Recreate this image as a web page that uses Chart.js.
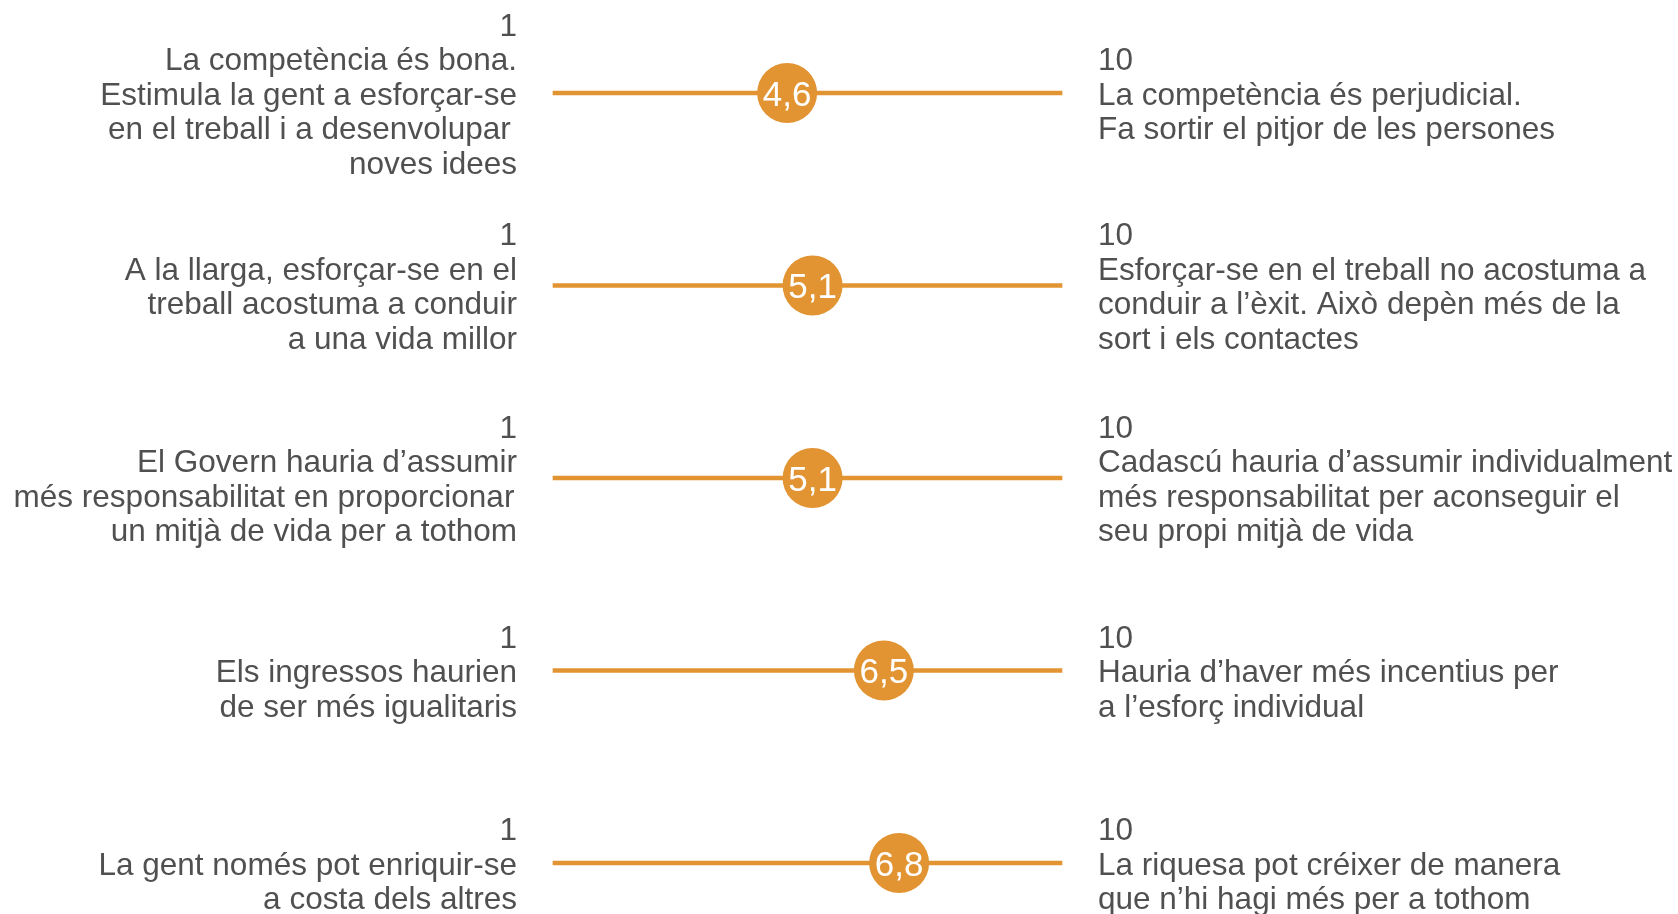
<!DOCTYPE html>
<html>
<head>
<meta charset="utf-8">
<script src="https://cdn.jsdelivr.net/npm/chart.js@4/dist/chart.umd.min.js"></script>
<style>
html, body { margin: 0; padding: 0; background: #ffffff; overflow: hidden; }
#wrap { width: 1678px; height: 914px; position: relative; }
</style>
</head>
<body>
<div id="wrap"><canvas id="c"></canvas></div>
<script>
// ---- data ----
const categories = ['Competència', 'Esforç', 'Responsabilitat', 'Ingressos', 'Riquesa'];
const leftLabels = [
  ['1', 'La competència és bona.', 'Estimula la gent a esforçar-se', 'en el treball i a desenvolupar\u2009', 'noves idees'],
  ['1', 'A la llarga, esforçar-se en el', 'treball acostuma a conduir', 'a una vida millor'],
  ['1', 'El Govern hauria d’assumir', 'més responsabilitat en proporcionar\u200A', 'un mitjà de vida per a tothom'],
  ['1', 'Els ingressos haurien', 'de ser més igualitaris'],
  ['1', 'La gent només pot enriquir-se', 'a costa dels altres']
];
const rightLabels = [
  ['10', 'La competència és perjudicial.', 'Fa sortir el pitjor de les persones'],
  ['10', 'Esforçar-se en el treball no acostuma a', 'conduir a l’èxit. Això depèn més de la', 'sort i els contactes'],
  ['10', 'Cadascú hauria d’assumir individualment', 'més responsabilitat per aconseguir el', 'seu propi mitjà de vida'],
  ['10', 'Hauria d’haver més incentius per', 'a l’esforç individual'],
  ['10', 'La riquesa pot créixer de manera', 'que n’hi hagi més per a tothom']
];
const values = [4.6, 5.1, 5.1, 6.5, 6.8];
const scaleRange = [0, 10];

// ---- styles ----
const ORANGE = '#E29433';
const TEXT = '#505050';
const FONT = '"Liberation Sans", Arial, Helvetica, sans-serif';

const valueLabels = {
  id: 'valueLabels',
  afterDatasetsDraw(chart) {
    const meta = chart.getDatasetMeta(1);
    const ctx = chart.ctx;
    const size = 35;
    ctx.save();
    ctx.fillStyle = '#ffffff';
    ctx.font = size + 'px ' + FONT;
    ctx.textAlign = 'center';
    ctx.textBaseline = 'alphabetic';
    meta.data.forEach((pt, i) => {
      const txt = values[i].toFixed(1).replace('.', ',');
      ctx.fillText(txt, pt.x, pt.y + size * 0.358);
    });
    ctx.restore();
  }
};

const tickCommon = {
  color: TEXT,
  font: { family: FONT, size: 31.5, lineHeight: '34.5px' },
  padding: 36,
  labelOffset: 3,
  autoSkip: false,
  maxRotation: 0,
  minRotation: 0,
  crossAlign: 'near'
};

function fixWidth(w) {
  return function (scale) {
    scale.width = w;
    scale.paddingTop = 0;
    scale.paddingBottom = 0;
  };
}

new Chart(document.getElementById('c'), {
  type: 'bar',
  data: {
    labels: leftLabels,
    datasets: [
      {
        type: 'bar',
        indexAxis: 'y',
        data: categories.map(() => scaleRange.slice()),
        backgroundColor: ORANGE,
        borderWidth: 0,
        barThickness: 4,
        clip: false,
        xAxisID: 'x',
        yAxisID: 'y',
        order: 1
      },
      {
        type: 'line',
        indexAxis: 'y',
        data: values,
        showLine: false,
        pointRadius: 30,
        pointHoverRadius: 30,
        pointBackgroundColor: ORANGE,
        pointBorderWidth: 0,
        pointHoverBorderWidth: 0,
        clip: false,
        xAxisID: 'x',
        yAxisID: 'y',
        order: 0
      }
    ]
  },
  options: {
    indexAxis: 'y',
    responsive: true,
    maintainAspectRatio: false,
    animation: false,
    events: [],
    layout: { padding: { top: 93, bottom: 51, left: 0, right: 0 } },
    plugins: { legend: { display: false }, tooltip: { enabled: false } },
    scales: {
      x: {
        type: 'linear',
        display: false,
        min: scaleRange[0],
        max: scaleRange[1]
      },
      y: {
        type: 'category',
        position: 'left',
        offset: false,
        grid: { display: false, drawTicks: false },
        border: { display: false },
        ticks: tickCommon,
        afterFit: fixWidth(553)
      },
      y2: {
        type: 'category',
        position: 'right',
        labels: rightLabels,
        offset: false,
        grid: { display: false, drawTicks: false },
        border: { display: false },
        ticks: tickCommon,
        afterFit: fixWidth(616)
      }
    }
  },
  plugins: [valueLabels]
});
</script>
</body>
</html>
